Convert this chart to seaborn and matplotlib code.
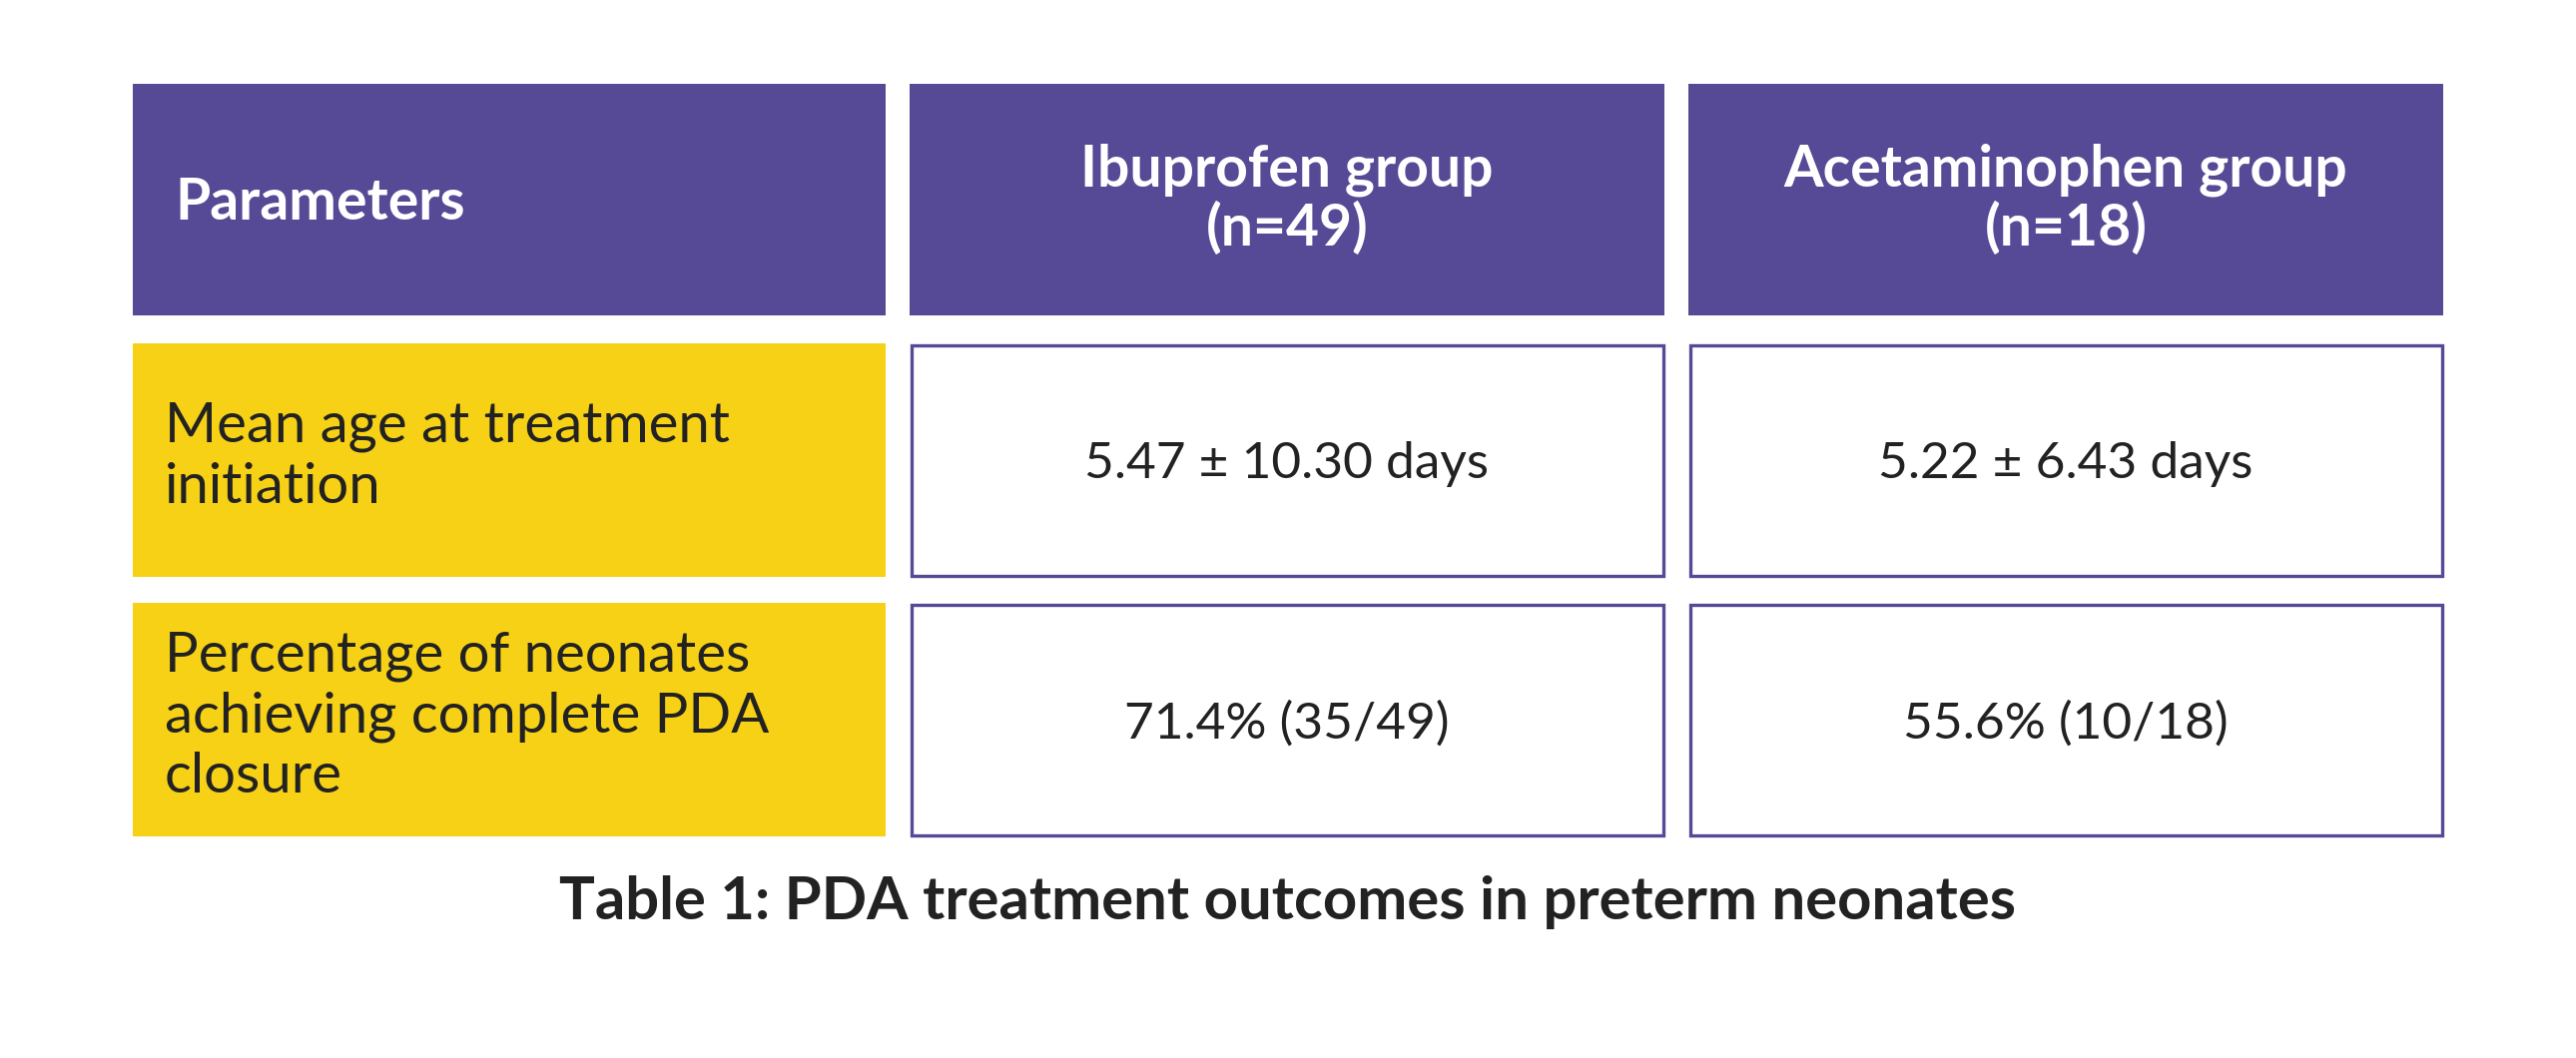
import matplotlib
matplotlib.use("Agg")
import matplotlib.pyplot as plt
from matplotlib.patches import Rectangle
import seaborn as sns

# Datos de la tabla

columnas = ["Parameters", "Ibuprofen group\n(n=49)", "Acetaminophen group\n(n=18)"]
parametros = ["Mean age at treatment\ninitiation",
              "Percentage of neonates\nachieving complete PDA\nclosure"]
ibuprofeno = ["5.47 ± 10.30 days", "71.4% (35/49)"]
acetaminofen = ["5.22 ± 6.43 days", "55.6% (10/18)"]
titulo = "Table 1: PDA treatment outcomes in preterm neonates"

# Colores y disposicion (en pixeles)

morado = "#564a96"
amarillo = "#f7d115"
texto = "#222222"

ancho_fig, alto_fig = 2580, 1060
col_x = [133, 911, 1691]
col_w = [754, 756, 756]
fila_y = [84, 344, 604]
fila_h = [232, 234, 234]

sns.set_theme(style="white")
plt.rcParams["font.family"] = ["Lato", "DejaVu Sans"]

fig = plt.figure(figsize=(25.8, 10.6), dpi=100)
ax = fig.add_axes([0, 0, 1, 1])
ax.set_xlim(0, ancho_fig)
ax.set_ylim(alto_fig, 0)
ax.axis("off")

# Encabezado

for j, nombre in enumerate(columnas):
    ax.add_patch(Rectangle((col_x[j], fila_y[0]), col_w[j], fila_h[0], facecolor=morado, edgecolor="none"))
    cy = fila_y[0] + fila_h[0] / 2
    if j == 0:
        ax.text(col_x[j] + 42, cy + 4, nombre, color="white", fontsize=41, fontweight="bold",
                ha="left", va="center")
    else:
        ax.text(col_x[j] + col_w[j] / 2, cy, nombre, color="white", fontsize=41, fontweight="bold",
                ha="center", va="center", multialignment="center", linespacing=1.1)

# Filas de datos

for i, parametro in enumerate(parametros):
    y0 = fila_y[i + 1]
    h = fila_h[i + 1]
    cy = y0 + h / 2
    ax.add_patch(Rectangle((col_x[0], y0), col_w[0], h, facecolor=amarillo, edgecolor="none"))
    ax.text(col_x[0] + 32, cy - 3, parametro, color=texto, fontsize=40.5, ha="left", va="center",
            linespacing=1.22)
    for j, valor in [(1, ibuprofeno[i]), (2, acetaminofen[i])]:
        ax.add_patch(Rectangle((col_x[j] + 1.5, y0 + 1.5), col_w[j] - 3, h - 3, facecolor="white",
                               edgecolor=morado, linewidth=2.4))
        ax.text(col_x[j] + col_w[j] / 2, cy + 4, valor, color=texto, fontsize=37, ha="center", va="center")

# Titulo de la tabla

ax.text(ancho_fig / 2, 904, titulo, color=texto, fontsize=43, fontweight="bold", ha="center", va="center")

fig.savefig("out.png", dpi=100, facecolor="white")
